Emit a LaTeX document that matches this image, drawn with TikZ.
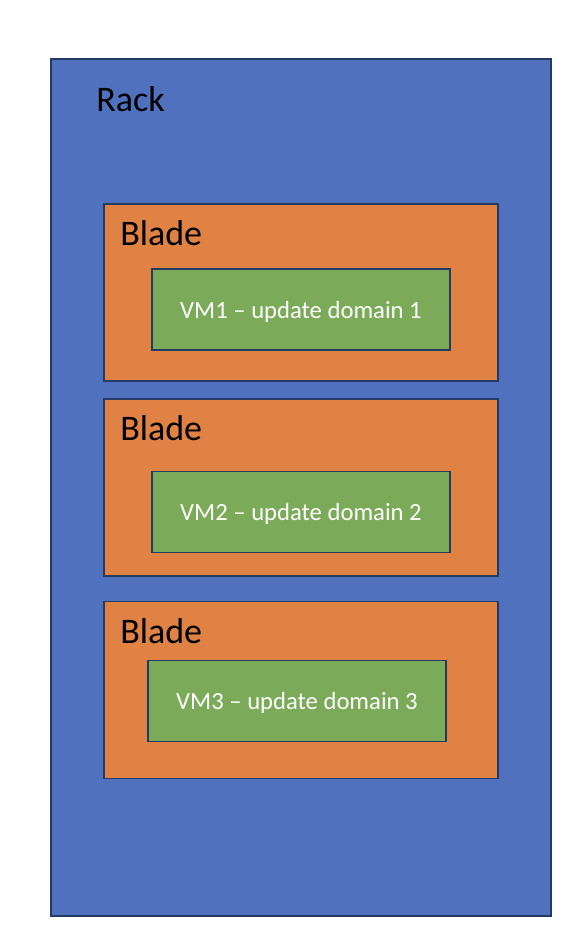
\documentclass[tikz,border=0pt]{standalone}
\usepackage{fontspec}
\setmainfont{Carlito}
\usetikzlibrary{positioning,calc}
\definecolor{rackblue}{HTML}{4F71BE}
\definecolor{bladeorange}{HTML}{DF8244}
\definecolor{vmgreen}{HTML}{7BAA58}
\definecolor{edgenavy}{HTML}{233A63}
\tikzset{
rackbox/.style={rectangle, draw=edgenavy, line width=1.5pt, fill=rackblue, minimum width=375pt, minimum height=642.75pt, inner sep=0pt},
bladenode/.style={rectangle, draw=edgenavy, line width=1.2pt, fill=bladeorange, minimum width=295.5pt, minimum height=132.75pt, inner sep=0pt},
vmnode/.style={rectangle, draw=edgenavy, line width=1.2pt, fill=vmgreen, minimum width=223.5pt, minimum height=60.5pt, inner sep=0pt, text depth=0pt, text=white, font=\fontsize{18.5}{20}\selectfont},
title/.style={anchor=base west, inner sep=0pt, font=\fontsize{27}{30}\selectfont}
}

\begin{document}
\begin{tikzpicture}[x=0.75pt, y=-0.75pt]
\useasboundingbox (0,0) rectangle (588,952);

%Rack
\node[rackbox] (rack) at(301,487.5) {};
\node[title] (racklabel) at(96,112) {Rack};

%Blades
\node[bladenode] (blade1) at(301,292.5) {};
\node[bladenode] (blade2) at(301,487.5) {};
\node[bladenode] (blade3) at(301,690) {};
\node[title] (bladelabel1) at(120,245) {Blade};
\node[title] (bladelabel2) at(120,440) {Blade};
\node[title] (bladelabel3) at(120,643) {Blade};

%VMs
\node[vmnode] (vm1) at(301,309.5) {VM1 -- update domain 1};
\node[vmnode] (vm2) at(301,512) {VM2 -- update domain 2};
\node[vmnode] (vm3) at(297,701) {VM3 -- update domain 3};
\end{tikzpicture}
\end{document}
